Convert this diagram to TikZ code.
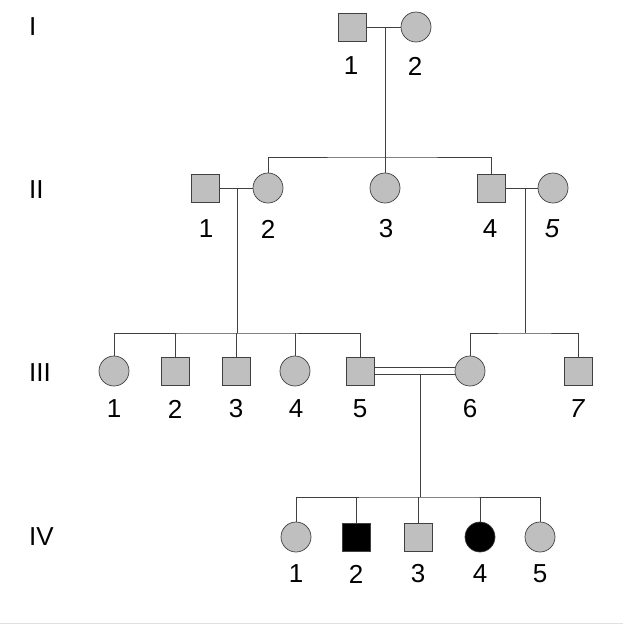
\documentclass[tikz,border=0pt]{standalone}
\usepackage{fontspec}
\setmainfont{Liberation Sans}
\usetikzlibrary{positioning, calc}

\begin{document}
\begin{tikzpicture}[x=1pt, y=-1pt,
            male/.style={rectangle, draw=black!75, fill=gray!50, line width=0.7pt, inner sep=0pt, minimum size=28pt},
            female/.style={circle, draw=black!75, fill=gray!50, line width=0.7pt, inner sep=0pt, minimum size=30pt},
            hit/.style={fill=black},
            num/.style={font=\fontsize{26}{30}\selectfont, inner sep=0pt},
            gen/.style={font=\fontsize{26}{30}\selectfont, inner sep=0pt, anchor=west},
            line/.style={draw=black!75, line width=0.7pt}
        ]
            \useasboundingbox (0,0) rectangle (623,625);

            % --- generation labels ---
            \node[gen] (g1) at (29,27) {I};
            \node[gen] (g2) at (29,190) {II};
            \node[gen] (g3) at (29,373) {III};
            \node[gen] (g4) at (29,537) {IV};

            % --- generation I ---
            \node[male] (i1) at (352,27) {};
            \node[female] (i2) at (416,27) {};
            \node[num] (n-i1) at (351,66) {1};
            \node[num] (n-i2) at (415,66) {2};

            % --- generation II ---
            \node[male] (ii1) at (205,188) {};
            \node[female] (ii2) at (268,188) {};
            \node[female] (ii3) at (385,188) {};
            \node[male] (ii4) at (491,188) {};
            \node[female] (ii5) at (553,188) {};
            \node[num] (n-ii1) at (206,229) {1};
            \node[num] (n-ii2) at (268,229) {2};
            \node[num] (n-ii3) at (386,229) {3};
            \node[num] (n-ii4) at (490,229) {4};
            \node[num] (n-ii5) at (552,229) {\itshape 5};

            % --- generation III ---
            \node[female] (iii1) at (114,371) {};
            \node[male] (iii2) at (175,371) {};
            \node[male] (iii3) at (236,371) {};
            \node[female] (iii4) at (295,371) {};
            \node[male] (iii5) at (360,371) {};
            \node[female] (iii6) at (470,371) {};
            \node[male] (iii7) at (578,371) {};
            \node[num] (n-iii1) at (114,409) {1};
            \node[num] (n-iii2) at (175,409) {2};
            \node[num] (n-iii3) at (236,409) {3};
            \node[num] (n-iii4) at (296,409) {4};
            \node[num] (n-iii5) at (360,409) {5};
            \node[num] (n-iii6) at (470,409) {6};
            \node[num] (n-iii7) at (577,409) {\itshape 7};

            % --- generation IV ---
            \node[female] (iv1) at (296,537) {};
            \node[male, hit] (iv2) at (356,537) {};
            \node[male] (iv3) at (418,537) {};
            \node[female, hit] (iv4) at (480,537) {};
            \node[female] (iv5) at (540,537) {};
            \node[num] (n-iv1) at (296,574) {1};
            \node[num] (n-iv2) at (356,574) {2};
            \node[num] (n-iv3) at (418,574) {3};
            \node[num] (n-iv4) at (480,574) {4};
            \node[num] (n-iv5) at (540,574) {5};

            % --- marriages and descent ---
            \coordinate (m-i) at (385,27);
            \coordinate (s-ii) at (385,157);
            \draw[line] (i1) -- (i2);
            \draw[line] (m-i) -- (s-ii);
            \draw[line] (ii2.north) |- (s-ii) -| (ii4.north);
            \draw[line] (ii3.north) -- (s-ii);

            \coordinate (m-ii12) at (237,188);
            \coordinate (s-iii-l) at (237,333);
            \draw[line] (ii1) -- (ii2);
            \draw[line] (m-ii12) -- (s-iii-l);
            \draw[line] (iii1.north) |- (s-iii-l) -| (iii5.north);
            \draw[line] (iii2.north) -- (iii2.north |- s-iii-l);
            \draw[line] (iii3.north) -- (iii3.north |- s-iii-l);
            \draw[line] (iii4.north) -- (iii4.north |- s-iii-l);

            \coordinate (m-ii45) at (525,188);
            \coordinate (s-iii-r) at (525,333);
            \draw[line] (ii4) -- (ii5);
            \draw[line] (m-ii45) -- (s-iii-r);
            \draw[line] (iii6.north) |- (s-iii-r) -| (iii7.north);

            % consanguineous union
            \draw[line] ([yshift=4]iii5.east) -- ([yshift=4]iii6.west);
            \draw[line] ([yshift=-3]iii5.east) -- ([yshift=-3]iii6.west);
            \coordinate (m-iii) at (420,374);
            \coordinate (s-iv) at (420,497);
            \draw[line] (m-iii) -- (s-iv);
            \draw[line] (iv1.north) |- (s-iv) -| (iv5.north);
            \draw[line] (iv2.north) -- (iv2.north |- s-iv);
            \draw[line] (iv3.north) -- (iv3.north |- s-iv);
            \draw[line] (iv4.north) -- (iv4.north |- s-iv);

            % bottom rule
            \draw[black!12, line width=1pt] (0,623) -- (623,623);
        \end{tikzpicture}
\end{document}
